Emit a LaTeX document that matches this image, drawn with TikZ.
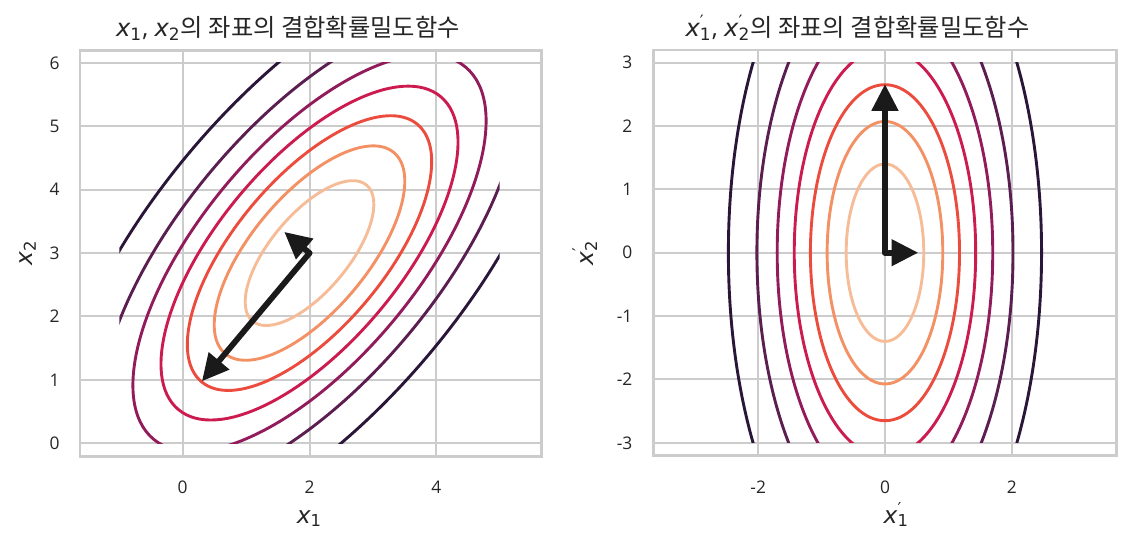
\documentclass[tikz,border=0pt]{standalone}
\usepackage{fontspec}
\setmainfont{Open Sans}
\newfontfamily\krfont{Noto Sans CJK KR}
\newfontfamily\varfont{DejaVu Sans}
\newfontfamily\varitfont{DejaVu Sans Oblique}
\usetikzlibrary{arrows.meta, calc}

\definecolor{gridgray}{HTML}{CCCCCC}
\definecolor{arrowblack}{HTML}{1A1A1A}
\definecolor{lev1}{HTML}{F6BC98}
\definecolor{lev2}{HTML}{F39064}
\definecolor{lev3}{HTML}{EB4C3D}
\definecolor{lev4}{HTML}{CC1C4F}
\definecolor{lev5}{HTML}{921C5B}
\definecolor{lev6}{HTML}{5B1E51}
\definecolor{lev7}{HTML}{2A1639}

% axis variables
\newcommand{\vx}[1]{{\varitfont x}\textsubscript{\varfont #1}}
\newcommand{\vxp}[1]{{\varitfont x}\rlap{\textsuperscript{\varfont\char"2032}}\textsubscript{\varfont #1}}

\tikzset{
  gridline/.style={draw=gridgray, line width=0.9pt},
  frameline/.style={draw=gridgray, line width=1.25pt},
  contour/.style={line width=1.3pt},
  eigarrow/.style={draw=arrowblack, fill=arrowblack, line width=2.6pt, line cap=round,
    -{Triangle[length=12pt,width=11.5pt]}},
  ticklabel/.style={font=\fontsize{7.8}{9}\selectfont, text=black!85, inner sep=0pt},
  axislabel/.style={font=\fontsize{10.5}{12}\selectfont, text=black!85, inner sep=0pt},
  titlelabel/.style={font=\fontsize{10.9}{12}\selectfont, text=black!85, inner sep=0pt},
}

\begin{document}
\begin{tikzpicture}
\useasboundingbox (-2.882,-1.699) rectangle (14.942,6.992);

% left panel: x1, x2
\foreach \x in {0,2,4} \draw[gridline] (\x,-0.211) -- (\x,6.199);
\foreach \y in {0,...,6} \draw[gridline] (-1.619,\y) -- (5.658,\y);
\begin{scope}
\clip (-1,0) rectangle (5,6);
\foreach \a/\b/\c in {1.40/0.612/lev1, 2.07/0.912/lev2, 2.65/1.176/lev3, 3.22/1.431/lev4,
                      3.83/1.70/lev5, 4.55/2.02/lev6, 5.56/2.47/lev7}
  \draw[contour, \c, rotate around={50:(2,3)}] (2,3) ellipse [x radius=\a, y radius=\b];
\end{scope}
\coordinate (muL) at (2,3);
\coordinate (longL) at ($(muL)+(230:2.64)$);
\coordinate (shortL) at ($(muL)+(140:0.52)$);
\draw[eigarrow] (muL) -- (longL);
\draw[eigarrow] (muL) -- (shortL);
\draw[frameline] (-1.619,-0.211) rectangle (5.658,6.199);
\foreach \x in {0,2,4} \node[ticklabel] (xtL\x) at (\x,-0.689) {\x};
\foreach \y in {0,...,6} \node[ticklabel, anchor=east] (ytL\y) at (-1.935,\y) {\y};
\node[axislabel, anchor=base] (xlabL) at (2,-1.262) {\vx{1}};
\node[axislabel, anchor=base, rotate=90] (ylabL) at (-2.377,3) {\vx{2}};
\node[titlelabel, anchor=base] (titleL) at (1.66,6.413)
  {\vx{1}, \vx{2}{\krfont 의 좌표의 결합확률밀도함수}};

% right panel: x1', x2'
\begin{scope}[shift={(11.077,3.006)}]
\foreach \x in {-2,0,2} \draw[gridline] (\x,-3.197) -- (\x,3.197);
\foreach \y in {-3,...,3} \draw[gridline] (-3.655,\y) -- (3.655,\y);
\begin{scope}
\clip (-3,-3) rectangle (3,3);
\foreach \a/\b/\c in {1.40/0.612/lev1, 2.07/0.912/lev2, 2.65/1.176/lev3, 3.22/1.431/lev4,
                      3.83/1.70/lev5, 4.55/2.02/lev6, 5.56/2.47/lev7}
  \draw[contour, \c] (0,0) ellipse [x radius=\b, y radius=\a];
\end{scope}
\coordinate (muR) at (0,0);
\coordinate (longR) at (0,2.66);
\coordinate (shortR) at (0.525,0);
\draw[eigarrow] (muR) -- (longR);
\draw[eigarrow] (muR) -- (shortR);
\draw[frameline] (-3.655,-3.197) rectangle (3.655,3.197);
\foreach \x in {-2,0,2} \node[ticklabel] (xtR\x) at (\x,-3.695) {\x};
\foreach \y in {-3,...,3} \node[ticklabel, anchor=east] (ytR\y) at (-3.977,\y) {\y};
\node[axislabel, anchor=base] (xlabR) at (0.18,-4.268) {\vxp{1}};
\node[axislabel, anchor=base, rotate=90] (ylabR) at (-4.601,0) {\vxp{2}};
\node[titlelabel, anchor=base] (titleR) at (-0.433,3.407)
  {\vxp{1}, \vxp{2}{\krfont 의 좌표의 결합확률밀도함수}};
\end{scope}
\end{tikzpicture}
\end{document}
